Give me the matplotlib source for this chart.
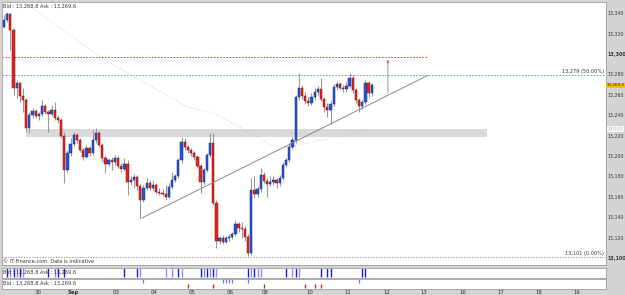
import numpy as np
import matplotlib
matplotlib.use('Agg')
import matplotlib.pyplot as plt

# #
# Data (2-hour candles)
# #

first_open = 13326

closes = [13333, 13339, 13323, 13266, 13271, 13259, 13255, 13227, 13240, 13244,
          13239, 13241, 13249, 13243, 13241, 13245, 13237, 13235, 13219, 13186,
          13203, 13212, 13220, 13215, 13206, 13199, 13208, 13203, 13215, 13222,
          13211, 13198, 13192, 13196, 13194, 13198, 13190, 13187, 13192, 13174,
          13176, 13179, 13170, 13157, 13168, 13173, 13168, 13171, 13165, 13164,
          13163, 13160, 13169, 13176, 13180, 13196, 13214, 13209, 13206, 13203,
          13199, 13190, 13174, 13186, 13201, 13213, 13154, 13117, 13119, 13116,
          13119, 13120, 13123, 13133, 13129, 13128, 13120, 13105, 13166, 13163,
          13167, 13181, 13175, 13172, 13174, 13176, 13173, 13178, 13191, 13196,
          13209, 13215, 13258, 13266, 13259, 13254, 13252, 13258, 13263, 13265,
          13256, 13248, 13245, 13251, 13267, 13270, 13266, 13265, 13268, 13276,
          13264, 13255, 13249, 13253, 13271, 13262, 13269.2]

highs = [13338, 13341, 13340, 13325, 13274, 13272, 13266, 13257, 13243, 13247,
         13246, 13243, 13255, 13251, 13245, 13250, 13253, 13240, 13237, 13223,
         13206, 13217, 13223, 13222, 13217, 13208, 13211, 13210, 13225, 13227,
         13224, 13213, 13200, 13198, 13199, 13201, 13200, 13193, 13198, 13196,
         13180, 13182, 13181, 13172, 13171, 13178, 13176, 13176, 13173, 13168,
         13167, 13171, 13173, 13184, 13182, 13198, 13218, 13217, 13211, 13208,
         13205, 13201, 13192, 13188, 13203, 13222, 13222, 13157, 13121, 13122,
         13121, 13123, 13125, 13137, 13135, 13135, 13131, 13123, 13178, 13180,
         13170, 13188, 13184, 13178, 13180, 13180, 13178, 13181, 13194, 13198,
         13213, 13218, 13260, 13281, 13269, 13263, 13258, 13262, 13266, 13268,
         13276, 13258, 13252, 13255, 13270, 13273, 13272, 13269, 13272, 13281,
         13279, 13266, 13257, 13255, 13274, 13273, 13271]

lows = [13325, 13331, 13304, 13260, 13257, 13253, 13243, 13223, 13222, 13237,
        13237, 13235, 13239, 13241, 13223, 13239, 13235, 13232, 13217, 13173,
        13184, 13200, 13210, 13213, 13204, 13196, 13198, 13200, 13201, 13213,
        13209, 13194, 13183, 13190, 13186, 13191, 13188, 13184, 13185, 13162,
        13171, 13168, 13166, 13139, 13155, 13166, 13166, 13166, 13163, 13162,
        13161, 13157, 13159, 13167, 13174, 13178, 13193, 13206, 13203, 13200,
        13196, 13188, 13164, 13171, 13184, 13199, 13152, 13110, 13114, 13114,
        13115, 13117, 13118, 13121, 13125, 13119, 13117, 13102, 13103, 13159,
        13160, 13165, 13173, 13160, 13170, 13171, 13168, 13170, 13176, 13189,
        13194, 13207, 13213, 13255, 13256, 13251, 13249, 13250, 13255, 13260,
        13254, 13243, 13238, 13231, 13249, 13264, 13264, 13263, 13263, 13266,
        13262, 13252, 13243, 13246, 13251, 13258, 13259]

# long moving average (dotted)
ma_x = [6.6, 7.6, 30.3, 40.7, 57.7, 66, 74.4, 83.9, 89.6, 96.5, 106, 114.5]
ma_y = [13353, 13348, 13297, 13278, 13248, 13242, 13228, 13211, 13208, 13213, 13219, 13227]

# drawn objects
trend_x = [43.5, 133.8]
trend_y = [13139, 13279]
arrow_x = 121.1
arrow_y = [13259, 13297]
target_level = 13297
fib50_level = 13279
fib0_level = 13101
zone_x = [6.9, 152.4]
zone_y = [13218, 13226]

# signal strips
sig1_x = [1, 2, 3, 4, 5, 6, 14, 16, 17, 19, 38, 42, 43, 51, 53, 55, 56,
          62, 63, 64, 65, 66, 67, 77, 78, 79, 80, 81, 89, 91, 92, 93, 100, 102, 103, 113, 114]
sig1_dark = [1, 0, 1, 0, 1, 0, 1, 0, 1, 1, 1, 1, 0, 0, 0, 1, 0,
             1, 0, 1, 0, 1, 0, 1, 0, 1, 0, 0, 1, 0, 1, 0, 1, 1, 1, 1, 1]
sig2_up = [44, 69, 70, 71, 72, 77, 112]
sig2_dn = [58, 66, 82, 95, 98, 100]

date_pos = [10.7, 21.8, 35.3, 47.3, 59.3, 71.3, 82.3, 96.5, 108.5, 120.8, 132.5, 144.8, 156.8, 168.8, 180.8]
date_lab = ['30', 'Sep', '03', '04', '05', '06', '08', '10', '11', '12', '13', '16', '17', '18', '19']

price_ticks = list(range(13100, 13341, 20))

# #
# Plot
# #

W, H = 625, 295
fig = plt.figure(figsize=(W / 100, H / 100), dpi=100, facecolor='#d4d4d4')

def px_axes(x0, y0, x1, y1):
    return fig.add_axes([x0 / W, 1 - y1 / H, (x1 - x0) / W, (y1 - y0) / H])

xlim = (-0.63, 189.9)
ax = px_axes(2, 2, 606, 265)
ax.set_facecolor('white')
ax.set_xlim(*xlim)
ax.set_ylim(13093, 13350.7)

closes = np.array(closes, dtype=float)
opens = np.concatenate([[first_open], closes[:-1]])
highs = np.maximum(np.array(highs, dtype=float), np.maximum(opens, closes))
lows = np.minimum(np.array(lows, dtype=float), np.minimum(opens, closes))
x = np.arange(len(closes))
up = closes >= opens

# zone
ax.fill_between(zone_x, zone_y[0], zone_y[1], color='#d9d9d9', lw=0, zorder=1)

# levels
dots = (0, (1.6, 1.6))
ax.hlines(target_level, xlim[0], trend_x[1], colors='#ff3030', lw=0.7, linestyles=dots, zorder=2)
ax.hlines(fib50_level, *xlim, colors='#6c98f2', lw=0.7, linestyles=dots, zorder=2)
ax.hlines(fib0_level, *xlim, colors='#8a8a8a', lw=0.6, linestyles=dots, zorder=2)
ax.plot(ma_x, ma_y, color='#c4c4c4', lw=0.6, ls=(0, (1, 2)), zorder=2)

# candles
ax.vlines(x, lows, highs, colors='#9a9a9a', lw=0.8, zorder=3)
body_col = np.where(up, '#2a55d4', '#e8231d')
edge_col = np.where(up, '#15287a', '#7a1410')
ax.bar(x, closes - opens, bottom=opens, width=0.72, color=body_col,
       edgecolor=edge_col, linewidth=0.35, zorder=4)

# trendline + arrow
ax.plot(trend_x, trend_y, color='#8a8a8a', lw=0.7, zorder=5)
ax.annotate('', xy=(arrow_x, arrow_y[1]), xytext=(arrow_x, arrow_y[0]),
            arrowprops=dict(arrowstyle='-|>', color='#8a8a8a', lw=0.6, mutation_scale=4), zorder=5)

# texts inside chart
ax.text(0.997, fib50_level + 0.8, '13,279 (50.00%)', transform=ax.get_yaxis_transform(),
        ha='right', va='bottom', fontsize=3.6, color='#333333')
ax.text(0.997, fib0_level + 0.8, '13,101 (0.00%)', transform=ax.get_yaxis_transform(),
        ha='right', va='bottom', fontsize=3.6, color='#333333')
ax.text(0.002, 0.992, 'Bid : 13,268.8 Ask : 13,269.6', transform=ax.transAxes,
        ha='left', va='top', fontsize=3.6, color='#333333')
ax.text(0.002, 0.002, '\u00a9 IT-Finance.com. Data is indicative', transform=ax.transAxes,
        ha='left', va='bottom', fontsize=3.6, color='#333333')

# right price axis
ax.yaxis.tick_right()
ax.set_yticks(price_ticks)
ax.set_yticklabels([f'{p:,}' for p in price_ticks])
ax.tick_params(axis='y', length=0, pad=0.8, labelsize=3.4, labelcolor='#333333')
for lbl, p in zip(ax.get_yticklabels(), price_ticks):
    if p in (13100, 13300):
        lbl.set_fontweight('bold')
ax.set_xticks([])
ax.text(1.0015, 13269.2, '13,269.2', transform=ax.get_yaxis_transform(), ha='left', va='center',
        fontsize=3.0, color='#222222',
        bbox=dict(boxstyle='square,pad=0.15', fc='#f2c200', ec='none'))
ax.text(1.0025, 13226, '13,225', transform=ax.get_yaxis_transform(), ha='left', va='center',
        fontsize=3.2, color='#bbbbbb',
        bbox=dict(boxstyle='square,pad=0.2', fc='#f4f4f4', ec='none'))
for s in ax.spines.values():
    s.set_color('#a0a0a0')
    s.set_linewidth(0.6)

# signal strip 1
ax1 = px_axes(2, 267.5, 606, 277.5)
ax1.set_xlim(*xlim)
ax1.set_ylim(0, 1)
cols1 = ['#1a1ae6' if d else '#8c8cff' for d in sig1_dark]
ax1.vlines(sig1_x, 0.08, 0.92, colors=cols1, lw=1.0)
ax1.text(0.002, 0.5, 'Bid : 13,268.8 Ask : 13,269.6', transform=ax1.transAxes,
         ha='left', va='center', fontsize=3.6, color='#333333')
ax1.set_xticks([])
ax1.set_yticks([])

# signal strip 2
ax2 = px_axes(2, 278.5, 606, 288.5)
ax2.set_xlim(*xlim)
ax2.set_ylim(0, 1)
ax2.vlines(sig2_up, 0.55, 0.95, colors='#7070f0', lw=0.9)
ax2.vlines(sig2_dn, 0.05, 0.45, colors='#e01010', lw=0.9)
ax2.text(0.002, 0.5, 'Bid : 13,268.8 Ask : 13,269.6', transform=ax2.transAxes,
         ha='left', va='center', fontsize=3.6, color='#333333')
ax2.set_yticks([])
ax2.set_xticks(date_pos)
ax2.set_xticklabels(date_lab)
ax2.tick_params(axis='x', length=0, pad=1.0, labelsize=3.9, labelcolor='#333333')
for lbl, t in zip(ax2.get_xticklabels(), date_lab):
    if t == 'Sep':
        lbl.set_fontweight('bold')

for a in (ax1, ax2):
    a.set_facecolor('white')
    for s in a.spines.values():
        s.set_color('#a0a0a0')
        s.set_linewidth(0.6)

fig.savefig('out.png', dpi=100, facecolor=fig.get_facecolor())
